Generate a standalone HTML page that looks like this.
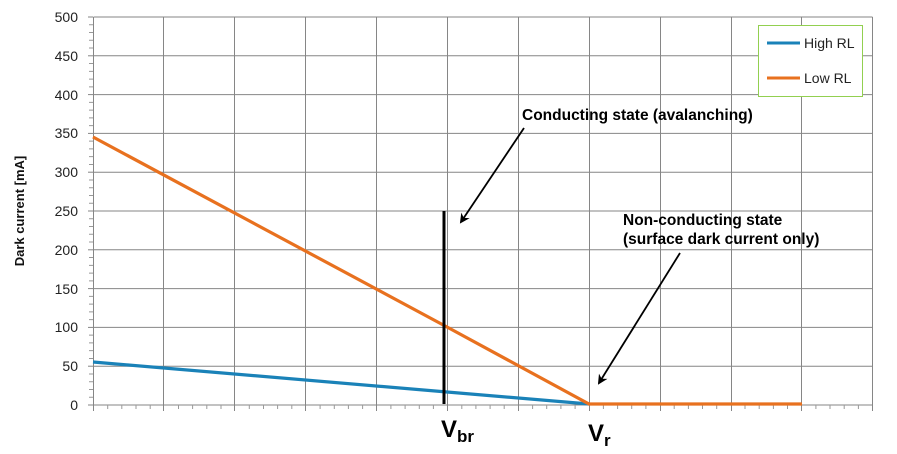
<!DOCTYPE html>
<html><head><meta charset="utf-8"><style>body{margin:0;background:#fff}svg{display:block}</style></head><body>
<svg width="897" height="454" xmlns="http://www.w3.org/2000/svg" font-family="Liberation Sans, Arial, sans-serif">
<defs><marker id="ah" markerWidth="10" markerHeight="10" refX="8" refY="5" orient="auto" markerUnits="userSpaceOnUse"><path d="M0,0 L10,5 L0,10 L3,5 Z" fill="#000"/></marker></defs>
<g stroke="#868686" stroke-width="1">
<line x1="93.5" y1="17" x2="872.5" y2="17"/><line x1="93.5" y1="55.8" x2="872.5" y2="55.8"/><line x1="93.5" y1="94.6" x2="872.5" y2="94.6"/><line x1="93.5" y1="133.4" x2="872.5" y2="133.4"/><line x1="93.5" y1="172.2" x2="872.5" y2="172.2"/><line x1="93.5" y1="211" x2="872.5" y2="211"/><line x1="93.5" y1="249.8" x2="872.5" y2="249.8"/><line x1="93.5" y1="288.6" x2="872.5" y2="288.6"/><line x1="93.5" y1="327.4" x2="872.5" y2="327.4"/><line x1="93.5" y1="366.2" x2="872.5" y2="366.2"/><line x1="88" y1="405" x2="872.5" y2="405"/>
<line x1="93.5" y1="17" x2="93.5" y2="411"/><line x1="163.5" y1="17" x2="163.5" y2="411"/><line x1="234.5" y1="17" x2="234.5" y2="411"/><line x1="305.5" y1="17" x2="305.5" y2="411"/><line x1="376.5" y1="17" x2="376.5" y2="411"/><line x1="447.5" y1="17" x2="447.5" y2="411"/><line x1="518.5" y1="17" x2="518.5" y2="411"/><line x1="589.5" y1="17" x2="589.5" y2="411"/><line x1="660.5" y1="17" x2="660.5" y2="411"/><line x1="731.5" y1="17" x2="731.5" y2="411"/><line x1="801.5" y1="17" x2="801.5" y2="411"/><line x1="872.5" y1="17" x2="872.5" y2="411"/>
<line x1="88" y1="17" x2="93" y2="17"/><line x1="88" y1="55.8" x2="93" y2="55.8"/><line x1="88" y1="94.6" x2="93" y2="94.6"/><line x1="88" y1="133.4" x2="93" y2="133.4"/><line x1="88" y1="172.2" x2="93" y2="172.2"/><line x1="88" y1="211" x2="93" y2="211"/><line x1="88" y1="249.8" x2="93" y2="249.8"/><line x1="88" y1="288.6" x2="93" y2="288.6"/><line x1="88" y1="327.4" x2="93" y2="327.4"/><line x1="88" y1="366.2" x2="93" y2="366.2"/>
</g>
<path stroke="#999" stroke-width="1" fill="none" d="M107.7 405v4M121.8 405v4M136 405v4M150.2 405v4M178.5 405v4M192.6 405v4M206.8 405v4M221 405v4M249.3 405v4M263.5 405v4M277.6 405v4M291.8 405v4M320.1 405v4M334.3 405v4M348.4 405v4M362.6 405v4M390.9 405v4M405.1 405v4M419.3 405v4M433.4 405v4M461.8 405v4M475.9 405v4M490.1 405v4M504.2 405v4M532.6 405v4M546.7 405v4M560.9 405v4M575.1 405v4M603.4 405v4M617.6 405v4M631.7 405v4M645.9 405v4M674.2 405v4M688.4 405v4M702.5 405v4M716.7 405v4M745 405v4M759.2 405v4M773.4 405v4M787.5 405v4M815.9 405v4M830 405v4M844.2 405v4M858.4 405v4
M89 24.76h4M89 32.52h4M89 40.28h4M89 48.04h4M89 63.56h4M89 71.32h4M89 79.08h4M89 86.84h4M89 102.36h4M89 110.12h4M89 117.88h4M89 125.64h4M89 141.16h4M89 148.92h4M89 156.68h4M89 164.44h4M89 179.96h4M89 187.72h4M89 195.48h4M89 203.24h4M89 218.76h4M89 226.52h4M89 234.28h4M89 242.04h4M89 257.56h4M89 265.32h4M89 273.08h4M89 280.84h4M89 296.36h4M89 304.12h4M89 311.88h4M89 319.64h4M89 335.16h4M89 342.92h4M89 350.68h4M89 358.44h4M89 373.96h4M89 381.72h4M89 389.48h4M89 397.24h4"/>
<g font-size="14" fill="#222" text-anchor="end">
<text x="78" y="22">500</text><text x="78" y="61">450</text><text x="78" y="100">400</text><text x="78" y="138">350</text><text x="78" y="177">300</text><text x="78" y="216">250</text><text x="78" y="255">200</text><text x="78" y="294">150</text><text x="78" y="332">100</text><text x="78" y="371">50</text><text x="78" y="410">0</text>
</g>
<text transform="translate(24,211) rotate(-90)" text-anchor="middle" font-size="13" font-weight="bold" fill="#111">Dark current [mA]</text>
<path d="M93,362 Q300,380 447,392 L589,404" fill="none" stroke="#1a82b8" stroke-width="3.2"/>
<path d="M93,137 L447,327 L589,404 L802,404" fill="none" stroke="#e8711f" stroke-width="3.2"/>
<line x1="444" y1="211" x2="444" y2="404" stroke="#000" stroke-width="3"/>
<rect x="758.5" y="25.5" width="104" height="71" fill="#fff" stroke="#92d050" stroke-width="1"/>
<line x1="767" y1="43" x2="800" y2="43" stroke="#1a82b8" stroke-width="3"/>
<line x1="767" y1="78" x2="800" y2="78" stroke="#e8711f" stroke-width="3"/>
<text x="804" y="48" font-size="14" fill="#222">High RL</text>
<text x="804" y="83" font-size="14" fill="#222">Low RL</text>
<g font-size="15.5" font-weight="bold" fill="#000">
<text x="522" y="120">Conducting state (avalanching)</text>
<text x="623" y="225">Non-conducting state</text>
<text x="623" y="244">(surface dark current only)</text>
</g>
<line x1="524" y1="128" x2="461" y2="222" stroke="#000" stroke-width="1.8" marker-end="url(#ah)"/>
<line x1="680" y1="253" x2="599" y2="383" stroke="#000" stroke-width="1.8" marker-end="url(#ah)"/>
<text x="441" y="437" font-size="24" font-weight="bold" fill="#000">V<tspan font-size="17" dy="5">br</tspan></text>
<text x="588" y="441" font-size="24" font-weight="bold" fill="#000">V<tspan font-size="17" dy="5">r</tspan></text>
</svg>
</body></html>
